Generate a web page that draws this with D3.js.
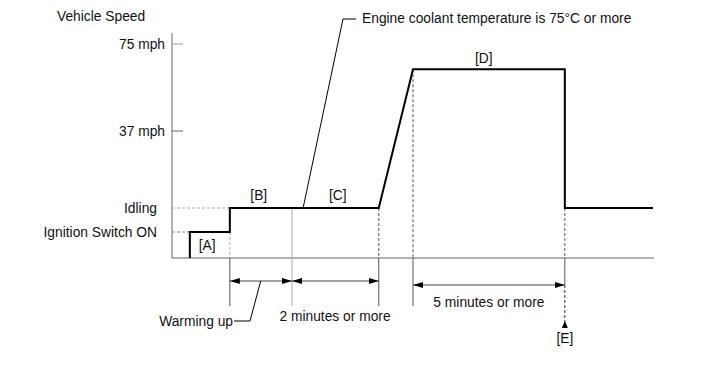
<!DOCTYPE html>
<html><head><meta charset="utf-8">
<script src="https://cdn.jsdelivr.net/npm/d3@7"></script>
<style>
body{margin:0;background:#fff}
text{font-family:"Liberation Sans",Arial,sans-serif;font-size:13.8px;fill:#111}
</style>
</head><body><svg id="c" width="713" height="381"></svg>
<script>
// ---- data ----
const levelLabels = ["Ignition Switch ON", "Idling", "37 mph", "75 mph"];
const levelValues = [1, 2, 3, 4];
const speedTime  = [3.7, 3.7, 12, 12, 42.9, 50, 81.5, 81.5, 99.8];
const speedLevel = [0,   1,   1,  2,  2,    3.71, 3.71, 2,  2];
const phaseLabels = ["[A]", "[B]", "[C]", "[D]"];
const phaseTime   = [7.3, 18, 34.4, 64.7];
const phaseLevel  = [0.5, 2.5, 2.5, 3.86];
const eventTime = [12, 24.9, 42.9, 50, 81.5];
const spanLabels = ["2 minutes or more", "5 minutes or more"];

// ---- layout ----
const svg = d3.select("#c");
const x = d3.scaleLinear().domain([0, 100]).range([172, 654]);
const y = d3.scaleLinear().domain([0, 1, 2, 3, 4]).range([258, 232, 208, 131, 44]);
const axisTop = 33, extBottom = 306, arrowY1 = 281, arrowY2 = 285;

const defs = svg.append("defs");
function marker(id, orient) {
  defs.append("marker").attr("id", id).attr("viewBox", "0 0 10 6")
    .attr("refX", 10).attr("refY", 3).attr("markerWidth", 10).attr("markerHeight", 6)
    .attr("markerUnits", "userSpaceOnUse").attr("orient", orient)
    .append("path").attr("d", "M0,0L10,3L0,6Z").attr("fill", "#000");
}
marker("ah", "auto");
marker("ahs", "auto-start-reverse");

// axes
svg.append("line").attr("x1", x(0)).attr("x2", x(0)).attr("y1", axisTop).attr("y2", y(0))
  .attr("stroke", "#666").attr("stroke-width", 1);
svg.append("line").attr("x1", x(0)).attr("x2", x(100)).attr("y1", y(0)).attr("y2", y(0))
  .attr("stroke", "#666").attr("stroke-width", 1);

// y ticks for mph levels
[3, 4].forEach(v => {
  svg.append("line").attr("x1", x(0)).attr("x2", x(0) + 11).attr("y1", y(v)).attr("y2", y(v))
    .attr("stroke", v === 4 ? "#999" : "#666");
});
levelValues.forEach((v, i) => {
  svg.append("text").attr("x", v >= 3 ? 165 : 157).attr("y", y(v))
    .attr("text-anchor", "end").attr("dominant-baseline", "central").text(levelLabels[i]);
});
svg.append("text").attr("x", 57).attr("y", 16).attr("dominant-baseline", "central").text("Vehicle Speed");

// dashed guides to level labels
const dash = (x1, y1, x2, y2, c) => svg.append("line").attr("x1", x1).attr("y1", y1).attr("x2", x2).attr("y2", y2)
  .attr("stroke", c || "#888").attr("stroke-dasharray", "3,2").attr("stroke-width", 1);
const solid = (x1, y1, x2, y2, c) => svg.append("line").attr("x1", x1).attr("y1", y1).attr("x2", x2).attr("y2", y2)
  .attr("stroke", c || "#555").attr("stroke-width", 1);

dash(x(0), y(1), x(speedTime[0]), y(1));
dash(x(0), y(2), x(eventTime[0]), y(2), "#aaa");
dash(x(eventTime[0]), y(1), x(eventTime[0]), y(0), "#aaa");
solid(x(eventTime[1]), y(2), x(eventTime[1]), extBottom, "#aaa");
dash(x(eventTime[2]), y(2), x(eventTime[2]), y(0), "#555");
dash(x(eventTime[3]), y(3.71), x(eventTime[3]), y(0), "#555");
dash(x(eventTime[4]), y(2), x(eventTime[4]), y(0), "#555");

// extension lines below axis
[eventTime[0], eventTime[2], eventTime[3]].forEach(t => solid(x(t), y(0), x(t), extBottom));
solid(x(eventTime[4]), y(0), x(eventTime[4]), arrowY2);
dash(x(eventTime[4]), arrowY2, x(eventTime[4]), 323, "#333");
svg.append("path").attr("d", `M${x(eventTime[4])},321L${x(eventTime[4]) + 3},328L${x(eventTime[4]) - 3},328Z`).attr("fill", "#000");
svg.append("text").attr("x", x(eventTime[4])).attr("y", 338).attr("text-anchor", "middle")
  .attr("dominant-baseline", "central").text("[E]");

// span arrows
const span = (t1, t2, yy) => svg.append("line").attr("x1", x(t1)).attr("x2", x(t2)).attr("y1", yy).attr("y2", yy)
  .attr("stroke", "#444").attr("stroke-width", 1)
  .attr("marker-start", "url(#ahs)").attr("marker-end", "url(#ah)");
span(eventTime[0], eventTime[1], arrowY1);
span(eventTime[1], eventTime[2], arrowY1);
span(eventTime[3], eventTime[4], arrowY2);

svg.append("text").attr("x", 335).attr("y", 316.5).attr("text-anchor", "middle")
  .attr("dominant-baseline", "central").text(spanLabels[0]);
svg.append("text").attr("x", (x(eventTime[3]) + x(eventTime[4])) / 2).attr("y", 302).attr("text-anchor", "middle")
  .attr("dominant-baseline", "central").text(spanLabels[1]);

// warming up leader
svg.append("path").attr("d", "M260.7,281L250,321L234,321").attr("fill", "none").attr("stroke", "#000").attr("stroke-width", 1);
svg.append("text").attr("x", 233).attr("y", 321).attr("text-anchor", "end")
  .attr("dominant-baseline", "central").text("Warming up");

// engine coolant leader
svg.append("path").attr("d", `M${x(27.2)},${y(2)}L343,19L356,19`).attr("fill", "none").attr("stroke", "#000").attr("stroke-width", 1);
svg.append("text").attr("x", 362).attr("y", 18).attr("dominant-baseline", "central")
  .text("Engine coolant temperature is 75°C or more");

// speed line
const pts = speedTime.map((t, i) => [t, speedLevel[i]]);
svg.append("path").datum(pts)
  .attr("d", d3.line().x(d => x(d[0])).y(d => y(d[1])))
  .attr("fill", "none").attr("stroke", "#000").attr("stroke-width", 2).attr("stroke-linejoin", "miter");

// phase labels
phaseLabels.forEach((l, i) => {
  svg.append("text").attr("x", x(phaseTime[i])).attr("y", phaseLevel[i] === 0.5 ? 245 : (phaseLevel[i] === 2.5 ? 195 : 58))
    .attr("text-anchor", "middle").attr("dominant-baseline", "central").text(l);
});
</script></body></html>
